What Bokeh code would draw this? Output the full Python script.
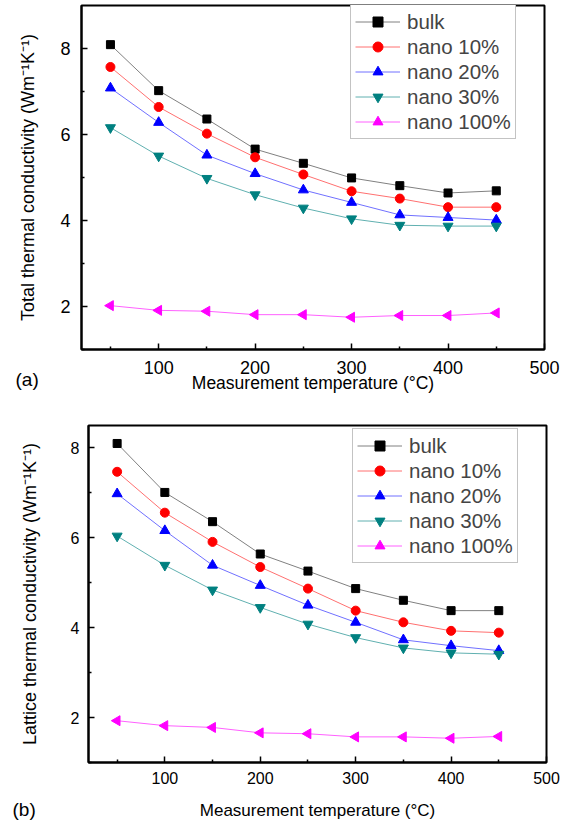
import math
from bokeh.plotting import figure
from bokeh.layouts import column
from bokeh.models import Range1d, Legend, LegendItem, Title, FixedTicker
from bokeh.embed import file_html
from bokeh.resources import INLINE

temperature = [50, 100, 150, 200, 250, 300, 350, 400, 450]
series_names = ["bulk", "nano 10%", "nano 20%", "nano 30%", "nano 100%"]

total_bulk = [8.09, 7.02, 6.36, 5.66, 5.33, 4.99, 4.81, 4.64, 4.69]
total_nano10 = [7.57, 6.64, 6.02, 5.47, 5.07, 4.68, 4.51, 4.31, 4.31]
total_nano20 = [7.08, 6.28, 5.52, 5.09, 4.71, 4.42, 4.13, 4.07, 4.01]
total_nano30 = [6.16, 5.50, 4.98, 4.60, 4.29, 4.04, 3.89, 3.87, 3.87]
total_nano100 = [2.02, 1.91, 1.89, 1.81, 1.81, 1.75, 1.79, 1.79, 1.85]

lattice_bulk = [8.10, 7.01, 6.36, 5.64, 5.26, 4.87, 4.61, 4.38, 4.38]
lattice_nano10 = [7.47, 6.56, 5.91, 5.35, 4.87, 4.38, 4.12, 3.93, 3.89]
lattice_nano20 = [6.98, 6.16, 5.39, 4.94, 4.50, 4.12, 3.73, 3.60, 3.49]
lattice_nano30 = [6.04, 5.39, 4.84, 4.45, 4.08, 3.78, 3.55, 3.44, 3.41]
lattice_nano100 = [1.93, 1.82, 1.78, 1.66, 1.64, 1.57, 1.57, 1.54, 1.58]

x_ticks = [100, 200, 300, 400, 500]
y_ticks = [2, 4, 6, 8]

FONT = "Liberation Sans"
marker_colors = ["#000000", "#ff0000", "#0000ff", "#008080", "#ff00ff"]
line_colors = ["#808080", "#ff7070", "#7070ff", "#60b0b0", "#ff60ff"]
markers = ["square", "circle", "triangle", "inverted_triangle", "triangle"]
angles = [0, 0, 0, 0, math.pi / 2]
sizes = [8, 9, 10, 10, 10]


def make_panel(series, ylab, y_end, height, borders, tick_fs, xlab_fs, ylab_fs, tick_standoff,
               ylab_standoff, xlab_standoff, legend_loc, tag, tag_offset, tag_standoff):
    top, right, bottom, left = borders
    p = figure(width=570, height=height, output_backend="svg", toolbar_location=None,
               x_range=Range1d(20, 500), y_range=Range1d(1, y_end),
               min_border_top=top, min_border_right=right,
               min_border_bottom=bottom, min_border_left=left)
    p.frame_align = False
    p.grid.visible = False
    p.outline_line_color = "black"
    p.outline_line_width = 2
    p.outline_line_alpha = 1
    for ax in (p.xaxis[0], p.yaxis[0]):
        ax.axis_line_width = 2
        ax.major_tick_in = 6
        ax.major_tick_out = 0
        ax.minor_tick_in = 3
        ax.minor_tick_out = 0
        ax.major_tick_line_width = 1.5
        ax.minor_tick_line_width = 1.5
        ax.major_label_text_font = FONT
        ax.major_label_text_font_size = tick_fs
        ax.major_label_text_color = "black"
        ax.axis_label_text_font = FONT
        ax.axis_label_text_font_style = "normal"
        ax.axis_label_text_color = "black"
        ax.major_label_standoff = tick_standoff
    p.xaxis[0].axis_label_text_font_size = xlab_fs
    p.yaxis[0].axis_label_text_font_size = ylab_fs
    p.xaxis[0].ticker = FixedTicker(ticks=x_ticks, minor_ticks=[50, 150, 250, 350, 450])
    p.yaxis[0].ticker = FixedTicker(ticks=y_ticks, minor_ticks=[1, 3, 5, 7])
    p.xaxis[0].axis_label = "Measurement temperature (°C)"
    p.yaxis[0].axis_label = ylab
    p.xaxis[0].axis_label_standoff = xlab_standoff
    p.yaxis[0].axis_label_standoff = ylab_standoff

    items = []
    for i, (name, vals) in enumerate(zip(series_names, series)):
        r_line = p.line(temperature, vals, line_color=line_colors[i], line_width=1)
        r_pts = p.scatter(temperature, vals, marker=markers[i], size=sizes[i],
                          angle=angles[i], fill_color=marker_colors[i],
                          line_color=marker_colors[i])
        items.append(LegendItem(label=name, renderers=[r_line, r_pts]))

    legend = Legend(items=items, location=legend_loc)
    legend.label_text_font = FONT
    legend.label_text_font_size = "20.5px"
    legend.label_height = 25
    legend.glyph_height = 25
    legend.glyph_width = 45
    legend.spacing = 0
    legend.padding = 4
    legend.margin = 0
    legend.label_standoff = 7
    legend.border_line_color = "#888888"
    legend.border_line_width = 1
    legend.background_fill_color = "white"
    legend.background_fill_alpha = 1
    p.add_layout(legend, "center")

    t = Title(text=tag, align="left", offset=tag_offset, standoff=tag_standoff,
              vertical_align="top", text_font=FONT, text_font_size="19px",
              text_font_style="normal", text_color="black")
    p.add_layout(t, "below")
    return p


pa = make_panel([total_bulk, total_nano10, total_nano20, total_nano30, total_nano100],
                "Total thermal conductivity (Wm⁻¹K⁻¹)", 9, 410, (5, 26, 61, 81),
                "18px", "17.5px", "18px", 11, 19, -4, (269, 210), "(a)", -66, -53)
pb = make_panel([lattice_bulk, lattice_nano10, lattice_nano20, lattice_nano30, lattice_nano100],
                "Lattice thermal conductivity (Wm⁻¹K⁻¹)", 8.5, 413, (15, 24, 61, 88),
                "16px", "17px", "18px", 9, 28, 14, (264, 199), "(b)", -76, -47)

layout = column(pa, pb, spacing=0)
open("out.html", "w").write(file_html(layout, INLINE))
